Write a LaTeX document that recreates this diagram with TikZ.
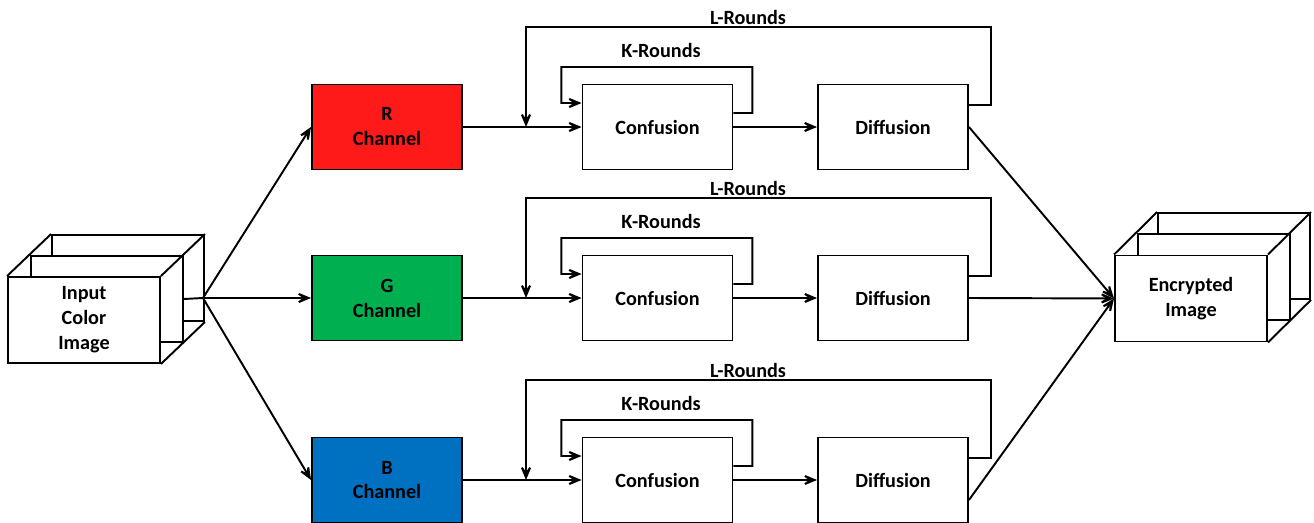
\documentclass[tikz,border=0pt]{standalone}
\usepackage{fontspec}
\setmainfont{Carlito}
\usetikzlibrary{arrows.meta}
\definecolor{chR}{HTML}{FF1A1A}
\definecolor{chG}{HTML}{00B050}
\definecolor{chB}{HTML}{0070C0}
\begin{document}
\begin{tikzpicture}[
    x=0.02cm, y=-0.02cm,
    line width=1.1pt,
    font=\fontsize{11.5}{14.2}\selectfont\bfseries,
    box/.style = {draw, minimum width=3cm, minimum height=1.7cm, align=center, inner sep=0pt},
    layer/.style = {draw, fill=white, minimum width=3.04cm, minimum height=1.72cm, inner sep=0pt},
    arr/.style = {-{Stealth[length=12pt, width=10pt, inset=7.5pt]}}
  ]
    \useasboundingbox (0,0) rectangle (1314,523);
    % input cube
    \node[layer] (inback) at (128,278) {};
    \node[layer] (inmid) at (107,299) {};
    \node[layer, align=center] (in) at (84,320) {Input\\Color\\Image};
    \draw
      (in.north west) -- (inback.north west)
      (in.north east) -- (inback.north east)
      (in.south east) -- (inback.south east)
    ;
    % output cube
    \node[layer] (outback) at (1234,256) {};
    \node[layer] (outmid) at (1214,277) {};
    \node[layer, align=center] (out) at (1191,298.5) {Encrypted\\Image};
    \draw
      (out.north west) -- (outback.north west)
      (out.north east) -- (outback.north east)
      (out.south east) -- (outback.south east)
    ;
    \coordinate (fork) at (203,298);
    \draw (inmid.east) -- (fork);
    % channels
    \foreach \r/\c/\col/\nm/\w in {1/127/chR/R/1.1pt, 2/298/chG/G/1.7pt, 3/480/chB/B/1.7pt}{
      \node[box, fill=\col] (ch\r) at (387,\c) {\nm\\Channel};
      \node[box] (conf\r) at (657.5,\c) {Confusion};
      \node[box] (diff\r) at (893,\c) {Diffusion};
      \coordinate (j\r) at (526,\c);
      \draw[arr] (fork) -- (ch\r.west);
      \draw[arr] (ch\r.east) -- (conf\r.west);
      \draw[arr, line width=\w] (conf\r.east) -- (diff\r.west);
      % K-Rounds
      \draw[arr] ([yshift=2.8mm]conf\r.east) -- ++(19,0) -- ++(0,-46) -- ++(-191,0)
        -- ++(0,36) -- ([yshift=4.8mm]conf\r.west);
      \node (k\r) at (661,\c-77) {K-Rounds};
      % L-Rounds
      \draw[arr] ([yshift=4.4mm]diff\r.east) -| ++(22,-78) -| (j\r);
      \node (l\r) at (748,\c-110) {L-Rounds};
    }
    % merge
    \draw[arr] (diff1.east) -- (out.west);
    \draw[arr] (diff2.east) -- (out.west);
    \draw[arr] ([yshift=-4mm]diff3.east) -- (out.west);
  \end{tikzpicture}
\end{document}
